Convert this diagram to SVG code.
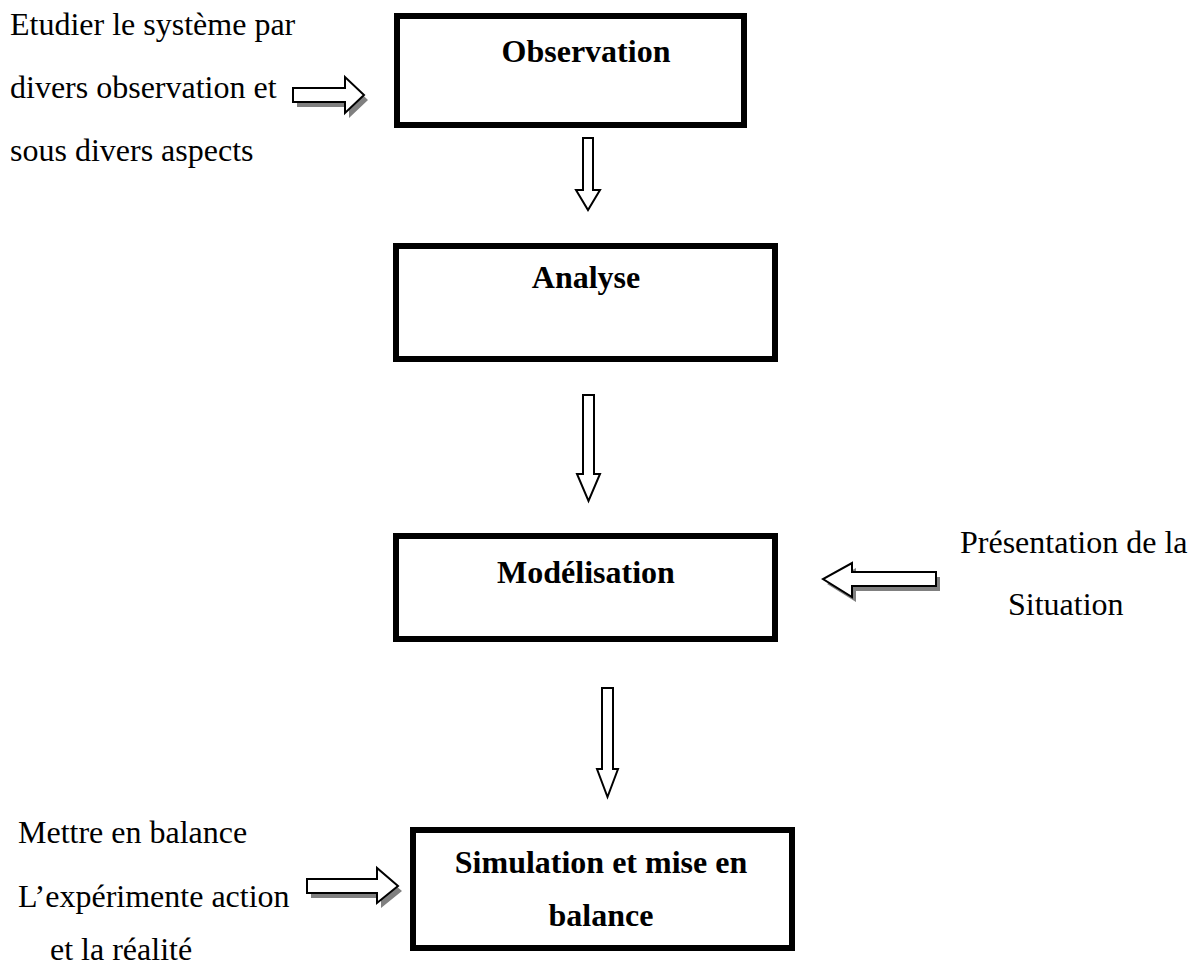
<svg xmlns="http://www.w3.org/2000/svg" width="1197" height="973" viewBox="0 0 1197 973">
  <style>
    .box { fill: #ffffff; stroke: #000000; stroke-width: 6; }
    .title { font-family: "Liberation Serif", "Times New Roman", serif; font-size: 32px; font-weight: bold; fill: #000; text-anchor: middle; }
    .note { font-family: "Liberation Serif", "Times New Roman", serif; font-size: 32px; fill: #000; }
    .arrow { fill: #ffffff; stroke: #000000; stroke-width: 2; stroke-linejoin: miter; }
    .shadow { fill: #808080; stroke: none; }
  </style>
  <rect width="1197" height="973" fill="#ffffff"/>

  <!-- process steps -->
  <g id="observation">
    <rect class="box" x="397" y="16" width="347" height="109"/>
    <text class="title" x="586" y="62">Observation</text>
  </g>
  <g id="analyse">
    <rect class="box" x="396" y="246" width="379" height="113"/>
    <text class="title" x="586" y="288">Analyse</text>
  </g>
  <g id="modelisation">
    <rect class="box" x="396" y="536" width="379" height="103"/>
    <text class="title" x="586" y="583">Modélisation</text>
  </g>
  <g id="simulation">
    <rect class="box" x="413" y="830" width="379" height="118"/>
    <text class="title" x="601" y="873">Simulation et mise en</text>
    <text class="title" x="601" y="926">balance</text>
  </g>

  <!-- side notes -->
  <g id="note-observation">
    <text class="note" x="10" y="35">Etudier le système par</text>
    <text class="note" x="10" y="98">divers observation et</text>
    <text class="note" x="10" y="161">sous divers aspects</text>
  </g>
  <g id="note-situation">
    <text class="note" x="960" y="553">Présentation de la</text>
    <text class="note" x="1008" y="615">Situation</text>
  </g>
  <g id="note-balance">
    <text class="note" x="18" y="843">Mettre en balance</text>
    <text class="note" x="18" y="907">L’expérimente action</text>
    <text class="note" x="50" y="960">et la réalité</text>
  </g>

  <!-- block arrows -->
  <g id="connectors">
    <polygon class="arrow" points="583,138 593,138 593,190 600,190 588,210 576,190 583,190"/>
    <polygon class="arrow" points="583,395 594,395 594,474 600,474 588.5,501 577,474 583,474"/>
    <polygon class="arrow" points="602,688 613,688 613,769 618,769 607.5,797 597,769 602,769"/>

    <g transform="translate(4,5)">
      <polygon class="shadow" points="293,88 345,88 345,77 364,95 345,113 345,102 293,102"/>
      <polygon class="shadow" points="936,572 852,572 852,563 823,579 852,597 852,586 936,586"/>
      <polygon class="shadow" points="307,879 377,879 377,868 398,886 377,903 377,893 307,893"/>
    </g>
    <polygon class="arrow" points="293,88 345,88 345,77 364,95 345,113 345,102 293,102"/>
    <polygon class="arrow" points="936,572 852,572 852,563 823,579 852,597 852,586 936,586"/>
    <polygon class="arrow" points="307,879 377,879 377,868 398,886 377,903 377,893 307,893"/>
  </g>
</svg>
